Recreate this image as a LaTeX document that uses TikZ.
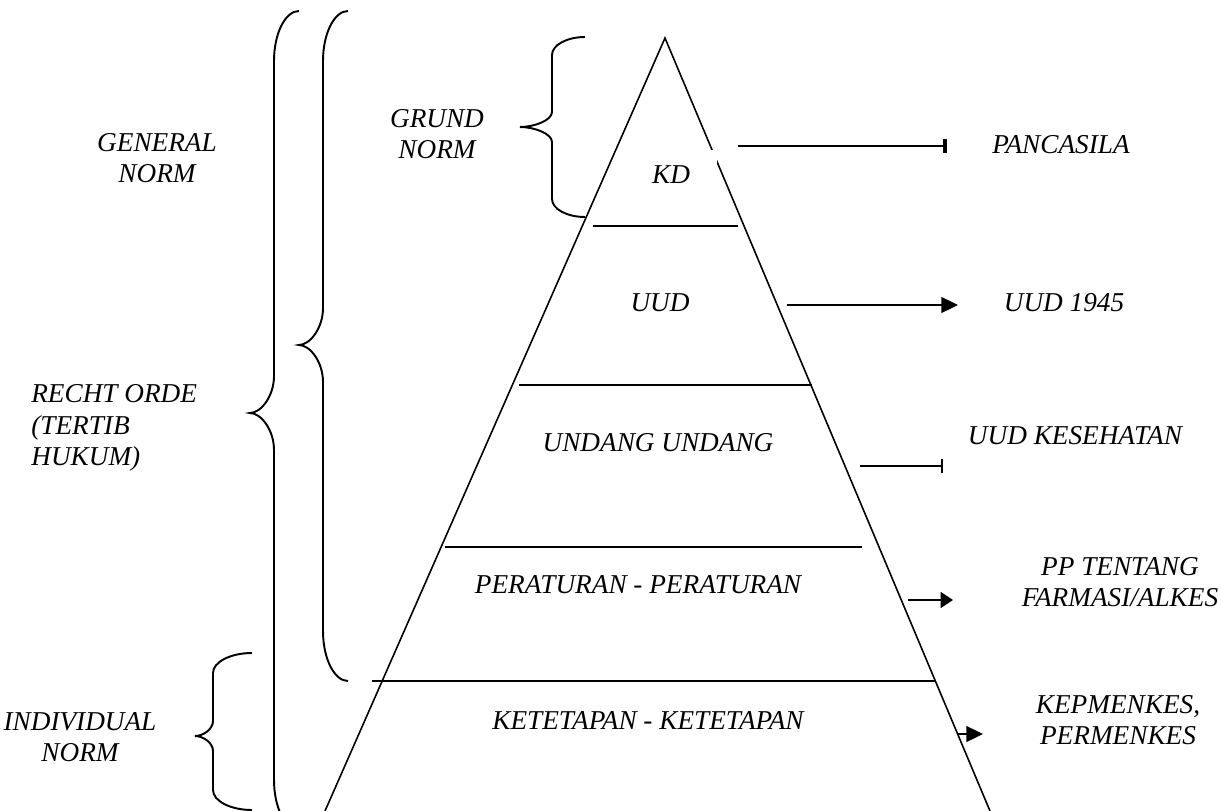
\documentclass[tikz,border=0pt]{standalone}
\usepackage{fontspec}
\setmainfont{Liberation Serif}
\usetikzlibrary{arrows.meta}
\tikzset{
  label/.style    = {font=\fontsize{15.5}{18}\selectfont\itshape,
                     align=center, inner sep=0pt},
  layer/.style    = {label},
  pyramid/.style  = {line width=0.9pt},
  ptr/.style      = {line width=1.1pt},
  barhead/.style  = {ptr, -{Bar[width=8pt, line width=2.4pt]}},
  tickhead/.style = {ptr, -{Bar[width=7.5pt]}},
  bighead/.style  = {ptr, -{Triangle[length=9.5pt, width=9pt]}},
  smallhead/.style= {ptr, -{Triangle[length=7pt, width=9pt]}}
}
% #1 end x, #2 spine x, #3 tip x, #4 top y, #5 tip y, #6 bottom y,
% #7 end curl, #8 tip curl
\newcommand{\normbrace}[8]{%
  \draw[ptr] (#1,#4)
    .. controls (#1-0.55*#1+0.55*#2,#4) and (#2,#4+0.45*#7) .. (#2,#4+#7)
    -- (#2,#5-#8)
    .. controls (#2,#5-0.45*#8) and (#3+0.45*#2-0.45*#3,#5) .. (#3,#5)
    .. controls (#3+0.45*#2-0.45*#3,#5) and (#2,#5+0.45*#8) .. (#2,#5+#8)
    -- (#2,#6-#7)
    .. controls (#2,#6-0.45*#7) and (#1-0.55*#1+0.55*#2,#6) .. (#1,#6);}

\begin{document}
\begin{tikzpicture}
  [
    x = 0.02cm,
    y = -0.02cm
  ]
  \useasboundingbox (0,0) rectangle (1221,811);

  % the pyramid and its layers
  \draw[pyramid] (325,811) -- (665,38) -- (990,811);
  \draw[pyramid] (593,226) -- (738,226);
  \draw[pyramid] (519,385) -- (812,385);
  \draw[pyramid] (445,547) -- (862,547);
  \draw[pyramid] (372,681) -- (935,681);

  \node[layer, fill=white, minimum width=1.86cm, minimum height=1cm]
    (kd) at (671,175) {KD};
  \node[layer] (uud)  at (660,303) {UUD};
  \node[layer] (uu)   at (658,443) {UNDANG UNDANG};
  \node[layer] (pp)   at (638,585) {PERATURAN - PERATURAN};
  \node[layer] (ket)  at (648,721) {KETETAPAN - KETETAPAN};

  % braces on the left
  \normbrace{299}{274}{250}{11}{413}{830}{50}{37}
  \normbrace{348}{323}{299}{11}{345}{681}{50}{37}
  \normbrace{585}{552}{520}{37}{127}{217}{18}{15}
  \normbrace{252}{213}{195}{653}{736}{810}{20}{15}

  \node[label] (general) at (157,158) {GENERAL\\NORM};
  \node[label] (grund)   at (437,134) {GRUND\\NORM};
  \node[label, align=left, anchor=west] (recht) at (31,428)
    {RECHT ORDE\\(TERTIB\\HUKUM)};
  \node[label] (indiv)   at (80,737) {INDIVIDUAL\\NORM};

  % examples on the right
  \node[label] (pancasila) at (1061,145) {PANCASILA};
  \node[label] (uud45)     at (1064,303) {UUD 1945};
  \node[label] (uukes)     at (1075,436) {UUD KESEHATAN};
  \node[label] (farmasi)   at (1120,582) {PP TENTANG\\FARMASI/ALKES};
  \node[label] (kepmen)    at (1118,720) {KEPMENKES,\\PERMENKES};

  \coordinate (a1) at (738,146);  \coordinate (b1) at (947,146);
  \coordinate (a2) at (787,305);  \coordinate (b2) at (958,305);
  \coordinate (a3) at (860,466);  \coordinate (b3) at (943,466);
  \coordinate (a4) at (908,600);  \coordinate (b4) at (953,600);
  \coordinate (a5) at (957,734);  \coordinate (b5) at (983,734);

  \draw[barhead]   (a1) -- (b1);
  \draw[bighead]   (a2) -- (b2);
  \draw[tickhead]  (a3) -- (b3);
  \draw[smallhead] (a4) -- (b4);
  \draw[bighead]   (a5) -- (b5);
\end{tikzpicture}
\end{document}
